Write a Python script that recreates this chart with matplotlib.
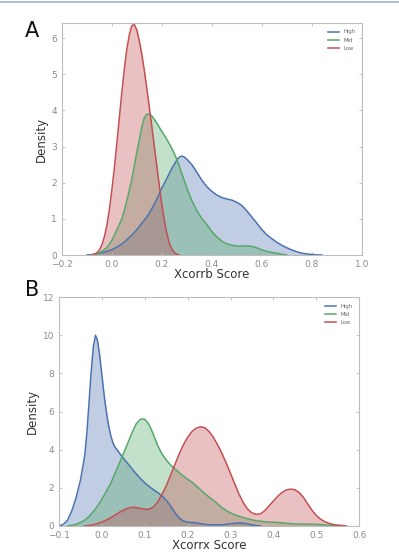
import matplotlib
matplotlib.use("Agg")
import matplotlib.pyplot as plt
from matplotlib.lines import Line2D

# ---------------- Panel A (Xcorrb) ----------------
a_high_x = [-0.10, -0.08, -0.06, -0.04, -0.02, 0.0, 0.02, 0.04, 0.06, 0.08, 0.10, 0.12, 0.14, 0.16,
            0.18, 0.20, 0.22, 0.24, 0.26, 0.27, 0.28, 0.29, 0.30, 0.32, 0.34, 0.36, 0.38, 0.40,
            0.42, 0.44, 0.46, 0.48, 0.50, 0.52, 0.54, 0.56, 0.58, 0.60, 0.62, 0.64, 0.66, 0.68,
            0.70, 0.72, 0.74, 0.76, 0.78, 0.80, 0.82, 0.84]
a_high_y = [0.0, 0.01, 0.03, 0.06, 0.10, 0.15, 0.22, 0.30, 0.42, 0.55, 0.70, 0.88, 1.05, 1.28,
            1.55, 1.85, 2.12, 2.40, 2.63, 2.71, 2.74, 2.71, 2.65, 2.50, 2.29, 2.07, 1.89, 1.76,
            1.66, 1.59, 1.55, 1.52, 1.46, 1.37, 1.22, 1.05, 0.88, 0.70, 0.56, 0.45, 0.35, 0.27,
            0.20, 0.14, 0.09, 0.05, 0.03, 0.015, 0.005, 0.0]

a_mid_x = [-0.08, -0.06, -0.04, -0.02, 0.0, 0.02, 0.04, 0.06, 0.08, 0.10, 0.12, 0.13, 0.14, 0.15,
           0.16, 0.18, 0.20, 0.22, 0.24, 0.26, 0.28, 0.30, 0.32, 0.34, 0.36, 0.38, 0.40, 0.42,
           0.44, 0.46, 0.48, 0.50, 0.52, 0.54, 0.56, 0.58, 0.60, 0.62, 0.64, 0.66, 0.68, 0.70]
a_mid_y = [0.0, 0.03, 0.10, 0.20, 0.40, 0.70, 1.00, 1.50, 2.10, 2.85, 3.55, 3.80, 3.90, 3.90,
           3.85, 3.65, 3.42, 3.20, 2.95, 2.65, 2.25, 1.85, 1.50, 1.22, 1.01, 0.84, 0.65, 0.50,
           0.38, 0.31, 0.27, 0.25, 0.25, 0.25, 0.24, 0.20, 0.14, 0.10, 0.07, 0.05, 0.02, 0.0]

a_low_x = [-0.08, -0.07, -0.06, -0.05, -0.04, -0.03, -0.02, -0.01, 0.0, 0.01, 0.02, 0.03, 0.04,
           0.05, 0.06, 0.07, 0.08, 0.09, 0.10, 0.11, 0.12, 0.13, 0.14, 0.15, 0.16, 0.17, 0.18,
           0.19, 0.20, 0.21, 0.22, 0.23, 0.24, 0.25, 0.26, 0.27]
a_low_y = [0.0, 0.02, 0.06, 0.14, 0.28, 0.50, 0.82, 1.25, 1.80, 2.40, 3.10, 3.80, 4.50,
           5.15, 5.70, 6.10, 6.35, 6.38, 6.22, 5.92, 5.55, 5.10, 4.60, 4.08, 3.55, 3.00, 2.45,
           1.90, 1.40, 0.95, 0.60, 0.33, 0.16, 0.07, 0.02, 0.0]

# ---------------- Panel B (Xcorrx) ----------------
b_high_x = [-0.100, -0.090, -0.080, -0.070, -0.060, -0.050, -0.040, -0.035, -0.030, -0.025,
            -0.020, -0.015, -0.010, -0.005, 0.000, 0.005, 0.010, 0.015, 0.020, 0.025, 0.030,
            0.040, 0.050, 0.060, 0.070, 0.080, 0.090, 0.100, 0.110, 0.120, 0.130, 0.140, 0.150,
            0.160, 0.170, 0.180, 0.190, 0.200, 0.210, 0.220, 0.230, 0.240, 0.250, 0.260, 0.270,
            0.280, 0.290, 0.300, 0.310, 0.320, 0.330, 0.340, 0.350, 0.360, 0.370]
b_high_y = [0.0, 0.08, 0.30, 0.80, 1.50, 2.40, 3.70, 4.90, 6.50, 8.10,
            9.40, 10.0, 9.70, 8.90, 7.90, 6.90, 6.05, 5.35, 4.80, 4.40, 4.15,
            3.85, 3.55, 3.28, 3.00, 2.73, 2.48, 2.26, 2.07, 1.90, 1.75, 1.58, 1.34,
            1.05, 0.70, 0.42, 0.25, 0.20, 0.18, 0.16, 0.12, 0.08, 0.06, 0.05, 0.05,
            0.06, 0.08, 0.11, 0.14, 0.15, 0.14, 0.10, 0.05, 0.02, 0.0]

b_mid_x = [-0.08, -0.07, -0.06, -0.05, -0.04, -0.03, -0.02, -0.01, 0.0, 0.01, 0.02, 0.03, 0.04,
           0.05, 0.06, 0.07, 0.08, 0.09, 0.10, 0.11, 0.12, 0.13, 0.14, 0.15, 0.16, 0.17, 0.18,
           0.19, 0.20, 0.21, 0.22, 0.23, 0.24, 0.25, 0.26, 0.27, 0.28, 0.29, 0.30, 0.31, 0.32,
           0.33, 0.34, 0.35, 0.36, 0.37, 0.38, 0.39, 0.40, 0.41, 0.42, 0.43, 0.44, 0.45, 0.46,
           0.47, 0.48, 0.49, 0.50, 0.51, 0.52, 0.53, 0.54, 0.55]
b_mid_y = [0.0, 0.03, 0.08, 0.18, 0.30, 0.50, 0.75, 1.05, 1.40, 1.80, 2.20, 2.72, 3.25,
           3.78, 4.32, 4.88, 5.35, 5.60, 5.60, 5.32, 4.80, 4.22, 3.78, 3.46, 3.20, 3.00, 2.80,
           2.61, 2.45, 2.29, 2.10, 1.90, 1.70, 1.51, 1.34, 1.15, 0.96, 0.80, 0.68, 0.58, 0.50,
           0.43, 0.37, 0.32, 0.27, 0.24, 0.22, 0.20, 0.19, 0.18, 0.16, 0.14, 0.12, 0.10, 0.09,
           0.09, 0.09, 0.09, 0.08, 0.07, 0.05, 0.03, 0.01, 0.0]

b_low_x = [-0.04, -0.03, -0.02, -0.01, 0.0, 0.01, 0.02, 0.03, 0.04, 0.05, 0.06, 0.07, 0.08,
           0.09, 0.10, 0.11, 0.12, 0.13, 0.14, 0.15, 0.16, 0.17, 0.18, 0.19, 0.20, 0.21, 0.22,
           0.23, 0.24, 0.25, 0.26, 0.27, 0.28, 0.29, 0.30, 0.31, 0.32, 0.33, 0.34, 0.35, 0.36,
           0.37, 0.38, 0.39, 0.40, 0.41, 0.42, 0.43, 0.44, 0.45, 0.46, 0.47, 0.48, 0.49, 0.50,
           0.51, 0.52, 0.53, 0.54, 0.55, 0.56, 0.57]
b_low_y = [0.0, 0.02, 0.06, 0.12, 0.20, 0.30, 0.42, 0.55, 0.70, 0.82, 0.92, 0.97, 0.96,
           0.92, 0.87, 0.87, 0.98, 1.25, 1.65, 2.10, 2.65, 3.20, 3.75, 4.25, 4.65, 4.95, 5.13,
           5.20, 5.15, 4.95, 4.65, 4.25, 3.80, 3.30, 2.75, 2.20, 1.66, 1.21, 0.88, 0.68, 0.60,
           0.63, 0.80, 1.05, 1.30, 1.55, 1.75, 1.88, 1.93, 1.90, 1.75, 1.50, 1.15, 0.82, 0.55,
           0.35, 0.22, 0.13, 0.07, 0.04, 0.02, 0.0]

labels = ["High", "Mid", "Low"]
colors = ["#4C72B0", "#55A868", "#C44E52"]

fig = plt.figure(figsize=(3.99, 5.55), dpi=100)
fig.patch.set_facecolor("white")
fig.add_artist(Line2D([0, 1], [0.997, 0.997], color="#9db4d6", lw=1.2, transform=fig.transFigure))

def style(ax, xlim, ylim, xticks, yticks, xlabel):
    ax.set_xlim(*xlim)
    ax.set_ylim(*ylim)
    ax.set_xticks(xticks)
    ax.set_yticks(yticks)
    for s in ax.spines.values():
        s.set_color("#bdbdbd")
        s.set_linewidth(0.8)
    ax.tick_params(direction="in", length=2.5, width=0.6, color="#bdbdbd",
                   labelcolor="#8a8a8a", labelsize=6.5, top=True, right=True)
    ax.tick_params(axis="x", pad=3.8)
    ax.tick_params(axis="y", pad=3.5)
    ax.set_xlabel(xlabel, fontsize=8.5, color="#333333", labelpad=-1)
    ax.set_ylabel("Density", fontsize=8.5, color="#333333", labelpad=2.5)
    ax.legend(loc="upper right", frameon=False, fontsize=3.8, handlelength=2.2,
              labelspacing=0.6, borderaxespad=0.8, handletextpad=0.8, labelcolor="#666666")

ax1 = fig.add_axes([0.155, 0.5405, 0.752, 0.418])
for xs, ys, lab, c in zip([a_high_x, a_mid_x, a_low_x], [a_high_y, a_mid_y, a_low_y], labels, colors):
    ax1.fill_between(xs, ys, 0, color=c, alpha=0.35, lw=0)
    ax1.plot(xs, ys, color=c, lw=1.1, label=lab)
style(ax1, (-0.2, 1.0), (0, 6.42), [-0.2, 0.0, 0.2, 0.4, 0.6, 0.8, 1.0], [0, 1, 2, 3, 4, 5, 6],
      "Xcorrb Score")

ax2 = fig.add_axes([0.148, 0.0525, 0.752, 0.412])
for xs, ys, lab, c in zip([b_high_x, b_mid_x, b_low_x], [b_high_y, b_mid_y, b_low_y], labels, colors):
    ax2.fill_between(xs, ys, 0, color=c, alpha=0.35, lw=0)
    ax2.plot(xs, ys, color=c, lw=1.1, label=lab)
style(ax2, (-0.1, 0.6), (0, 12), [-0.1, 0.0, 0.1, 0.2, 0.3, 0.4, 0.5, 0.6], [0, 2, 4, 6, 8, 10, 12],
      "Xcorrx Score")

fig.text(0.062, 0.945, "A", fontsize=15, color="#111111", va="center", ha="left")
fig.text(0.062, 0.477, "B", fontsize=15, color="#111111", va="center", ha="left")

fig.savefig("out.png", dpi=100)
